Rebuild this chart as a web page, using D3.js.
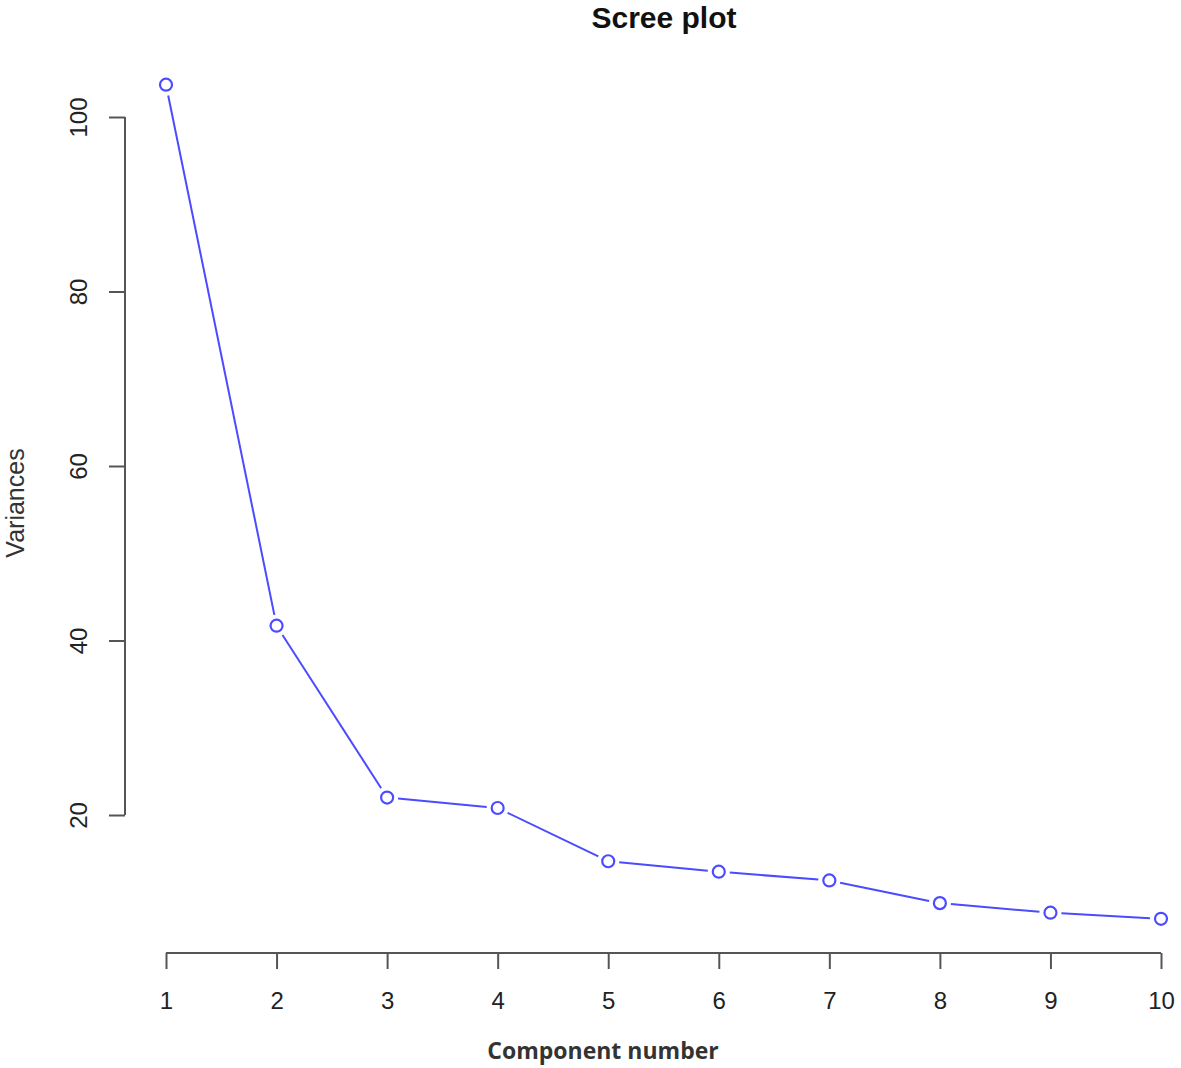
<!DOCTYPE html>
<html>
<head>
<meta charset="utf-8">
<script src="https://cdn.jsdelivr.net/npm/d3@7"></script>
<style>
  body { margin: 0; background: #fff; }
  svg { display: block; font-family: "Liberation Sans", Arial, sans-serif; }
</style>
</head>
<body>
<svg id="chart"></svg>
<script>
'use strict';

const WIDTH = 1181;
const HEIGHT = 1068;

// values
const components = [1, 2, 3, 4, 5, 6, 7, 8, 9, 10];
const variances = [103.7, 41.7, 22.0, 20.8, 14.7, 13.5, 12.5, 9.9, 8.8, 8.1];
const yTicks = [20, 40, 60, 80, 100];

const COLOR = {
    LINE: '#4b4bff',
    AXIS: '#555555',
    TEXT: '#222222'
};

const svg = d3.select('#chart').attr('width', WIDTH).attr('height', HEIGHT);

const x = d3.scaleLinear().domain([1, 10]).range([166, 1161]);
const y = d3.scaleLinear().domain([20, 100]).range([815, 117]);

// y axis (R style: line only spans the ticks, labels turned)
const yAxis = d3.axisLeft(y)
    .tickValues(yTicks)
    .tickSize(16)
    .tickFormat(d3.format('d'));
const gy = svg.append('g').attr('transform', 'translate(125,0)').call(yAxis);
gy.select('.domain').remove();
gy.append('line')
    .attr('y1', y(20)).attr('y2', y(100))
    .attr('stroke', COLOR.AXIS).attr('stroke-width', 2);
gy.selectAll('.tick line').attr('stroke', COLOR.AXIS).attr('stroke-width', 2);
gy.selectAll('.tick text')
    .attr('fill', COLOR.TEXT)
    .attr('font-size', 24)
    .attr('x', 0)
    .attr('y', 0)
    .attr('dy', '0.35em')
    .attr('text-anchor', 'middle')
    .attr('transform', 'translate(-46,0) rotate(-90)');

// x axis
const xAxis = d3.axisBottom(x)
    .tickValues(components)
    .tickSize(16)
    .tickPadding(23)
    .tickFormat(d3.format('d'));
const gx = svg.append('g').attr('transform', 'translate(0,953)').call(xAxis);
gx.select('.domain').remove();
gx.append('line')
    .attr('x1', x(1)).attr('x2', x(10))
    .attr('stroke', COLOR.AXIS).attr('stroke-width', 2);
gx.selectAll('.tick line').attr('stroke', COLOR.AXIS).attr('stroke-width', 2);
gx.selectAll('.tick text')
    .attr('fill', COLOR.TEXT)
    .attr('font-size', 24);

// line segments with gaps around the points (type = "b")
const pts = components.map(function(c, i) { return {x: x(c), y: y(variances[i])}; });
const GAP = 11;
const segs = d3.pairs(pts).map(function(p) {
    const dx = p[1].x - p[0].x, dy = p[1].y - p[0].y;
    const len = Math.sqrt(dx * dx + dy * dy);
    const ux = dx / len, uy = dy / len;
    return {
        x1: p[0].x + ux * GAP, y1: p[0].y + uy * GAP,
        x2: p[1].x - ux * GAP, y2: p[1].y - uy * GAP
    };
});
svg.append('g').selectAll('line')
    .data(segs)
    .enter()
    .append('line')
    .attr('x1', function(d) { return d.x1; })
    .attr('y1', function(d) { return d.y1; })
    .attr('x2', function(d) { return d.x2; })
    .attr('y2', function(d) { return d.y2; })
    .attr('stroke', COLOR.LINE)
    .attr('stroke-width', 2);

svg.append('g').selectAll('circle')
    .data(pts)
    .enter()
    .append('circle')
    .attr('cx', function(d) { return d.x; })
    .attr('cy', function(d) { return d.y; })
    .attr('r', 6)
    .attr('fill', 'none')
    .attr('stroke', COLOR.LINE)
    .attr('stroke-width', 2.2);

// labels
svg.append('text')
    .attr('x', 664).attr('y', 28)
    .attr('text-anchor', 'middle')
    .attr('font-size', 30)
    .attr('font-weight', 'bold')
    .attr('fill', '#111')
    .text('Scree plot');

svg.append('text')
    .attr('x', 603).attr('y', 1059)
    .attr('text-anchor', 'middle')
    .attr('font-size', 23)
    .attr('font-weight', 'bold')
    .attr('font-family', '"Open Sans", sans-serif')
    .attr('fill', '#333')
    .text('Component number');

svg.append('text')
    .attr('transform', 'translate(24,503) rotate(-90)')
    .attr('text-anchor', 'middle')
    .attr('font-size', 25)
    .attr('fill', '#333')
    .text('Variances');
</script>
</body>
</html>
